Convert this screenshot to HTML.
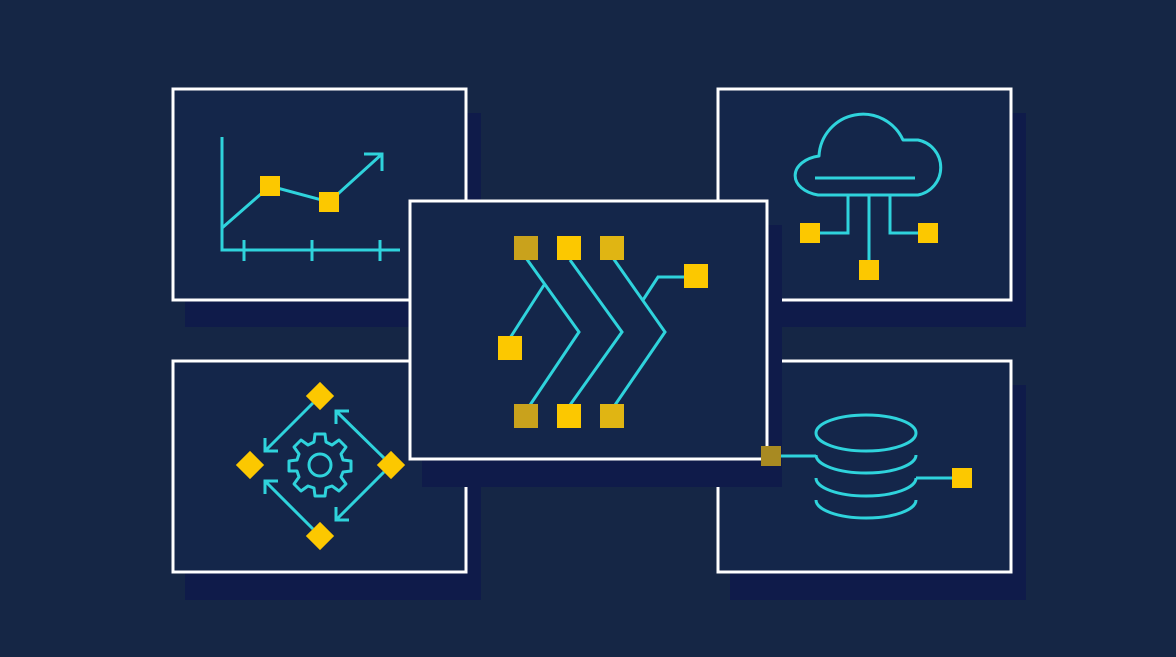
<!DOCTYPE html>
<html><head><style>
html,body{margin:0;padding:0;background:#152645;}
svg{display:block}
</style></head><body>
<svg width="1176" height="657" viewBox="0 0 1176 657" xmlns="http://www.w3.org/2000/svg">
<rect width="1176" height="657" fill="#152645"/>
<g fill="#0f1b4a">
<rect x="185" y="113" width="296" height="214"/>
<rect x="730" y="113" width="296" height="214"/>
<rect x="185" y="385" width="296" height="215"/>
<rect x="730" y="385" width="296" height="215"/>
</g>
<g fill="#14264a" stroke="#ffffff" stroke-width="3">
<rect x="173" y="89" width="293" height="211"/>
<rect x="718" y="89" width="293" height="211"/>
<rect x="173" y="361" width="293" height="211"/>
<rect x="718" y="361" width="293" height="211"/>
</g>
<rect x="422" y="225" width="360" height="262" fill="#0f1b4a"/>
<rect x="410" y="201" width="357" height="258" fill="#14264a" stroke="#ffffff" stroke-width="3"/>
<g stroke="#2fd3dc" stroke-width="3" fill="none" stroke-linecap="butt">
<path d="M222 137 V250 H400"/>
<path d="M244 240 V261 M312 240 V261 M380 240 V261"/>
<path d="M222 228 L270 186 L329 202 L382 154"/>
<path d="M364 154 H382 V171"/>
<path d="M526 258 L579 332 L528 408"/>
<path d="M570 260 L622 332 L570 405"/>
<path d="M613 258 L665 332 L615 405"/>
<path d="M544 285 L510 338"/>
<path d="M643 300 L658 277 L685 277"/>
<path d="M313 403 L265 451 M265 438 V451 H278"/>
<path d="M384 458 L336 411 M336 424 V411 H349"/>
<path d="M384 472 L336 520 M336 507 V520 H349"/>
<path d="M313 529 L265 481 M265 494 V481 H278"/>
<path d="M818 195 A30 20 0 0 1 819 156 A44 44 0 0 1 903 140 H918 A28 28 0 0 1 918 195 Z" stroke-linejoin="round"/>
<path d="M815 178 H915"/>
<path d="M848 195 V233 H818 M869 195 V262 M890 195 V233 H920"/>
<ellipse cx="866" cy="433" rx="50" ry="18"/>
<path d="M816 455 A50 18 0 0 0 916 455"/>
<path d="M816 478 A50 18 0 0 0 916 478"/>
<path d="M816 500 A50 18 0 0 0 916 500"/>
<path d="M780 456 H816 M916 478 H952"/>
</g>
<g fill="#fcc800">
<rect x="260" y="176" width="20" height="20"/>
<rect x="319" y="192" width="20" height="20"/>
<rect x="514" y="236" width="24" height="24" fill="#c9a21c"/>
<rect x="557" y="236" width="24" height="24"/>
<rect x="600" y="236" width="24" height="24" fill="#e0b513"/>
<rect x="514" y="404" width="24" height="24" fill="#c9a21c"/>
<rect x="557" y="404" width="24" height="24"/>
<rect x="600" y="404" width="24" height="24" fill="#e0b513"/>
<rect x="498" y="336" width="24" height="24"/>
<rect x="684" y="264" width="24" height="24"/>
<rect x="800" y="223" width="20" height="20"/>
<rect x="859" y="260" width="20" height="20"/>
<rect x="918" y="223" width="20" height="20"/>
<rect x="761" y="446" width="20" height="20" fill="#a88a22"/>
<rect x="952" y="468" width="20" height="20"/>
<rect x="-10" y="-10" width="20" height="20" transform="translate(320 396) rotate(45)"/>
<rect x="-10" y="-10" width="20" height="20" transform="translate(250 465) rotate(45)"/>
<rect x="-10" y="-10" width="20" height="20" transform="translate(391 465) rotate(45)"/>
<rect x="-10" y="-10" width="20" height="20" transform="translate(320 536) rotate(45)"/>
</g>
<g transform="translate(320 465)" stroke="#2fd3dc" stroke-width="3" fill="none">
<circle r="11"/>
<path d="M-5 -31 H5 L6 -23 L12 -20 L19 -25 L26 -18 L21 -11 L23 -5 L31 -4 V6 L23 7 L21 12 L26 19 L19 26 L12 21 L6 23 L5 31 H-5 L-6 23 L-12 21 L-19 26 L-26 19 L-21 12 L-23 6 L-31 6 V-4 L-23 -5 L-21 -11 L-26 -18 L-19 -25 L-12 -20 L-6 -23 Z" stroke-linejoin="round"/>
</g>
</svg>
</body></html>
